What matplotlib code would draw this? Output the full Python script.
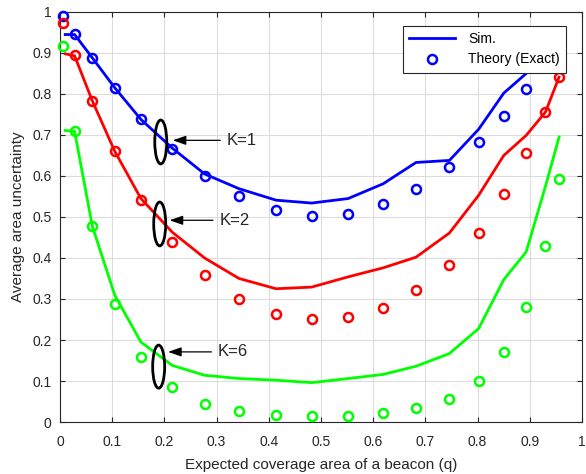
import numpy as np
import matplotlib
matplotlib.use('Agg')
import matplotlib.pyplot as plt
from matplotlib.patches import Ellipse

plt.rcParams['font.family'] = ['Liberation Sans', 'DejaVu Sans']
plt.rcParams['font.size'] = 10
plt.rcParams['xtick.direction'] = 'in'
plt.rcParams['ytick.direction'] = 'in'
plt.rcParams['xtick.major.size'] = 3.5
plt.rcParams['ytick.major.size'] = 3.5
plt.rcParams['axes.linewidth'] = 0.8

#
# Data
#
q_theory = [0.005, 0.028, 0.062, 0.105, 0.155, 0.215, 0.277, 0.343, 0.414, 0.482,
            0.552, 0.619, 0.682, 0.746, 0.802, 0.850, 0.893, 0.930, 0.956]
q_sim = [0.010] + q_theory[1:]

# K=1
theory_k1 = [0.990, 0.947, 0.888, 0.815, 0.738, 0.665, 0.600, 0.550, 0.516, 0.502,
             0.508, 0.531, 0.568, 0.622, 0.683, 0.747, 0.811]
sim_k1 = [0.945, 0.945, 0.888, 0.815, 0.738, 0.668, 0.605, 0.569, 0.541, 0.534,
          0.545, 0.581, 0.633, 0.638, 0.714, 0.802, 0.850, 0.910]

# K=2
theory_k2 = [0.973, 0.894, 0.783, 0.661, 0.542, 0.439, 0.358, 0.301, 0.263, 0.250,
             0.255, 0.279, 0.323, 0.384, 0.461, 0.557, 0.656, 0.755, 0.841]
sim_k2 = [0.898, 0.893, 0.783, 0.660, 0.545, 0.463, 0.400, 0.350, 0.325, 0.329,
          0.354, 0.376, 0.402, 0.461, 0.553, 0.650, 0.699, 0.756, 0.841]

# K=6
theory_k6 = [0.917, 0.709, 0.477, 0.287, 0.159, 0.085, 0.043, 0.026, 0.018, 0.015,
             0.015, 0.021, 0.033, 0.055, 0.099, 0.170, 0.281, 0.429, 0.592]
sim_k6 = [0.711, 0.709, 0.477, 0.309, 0.195, 0.138, 0.114, 0.106, 0.102, 0.096,
          0.106, 0.116, 0.136, 0.167, 0.228, 0.347, 0.415, 0.575, 0.695]

series = [
	(sim_k1, theory_k1, (0, 0, 1)),
	(sim_k2, theory_k2, (1, 0, 0)),
	(sim_k6, theory_k6, (0, 1, 0)),
]

# (label, ellipse centre, ellipse height, arrow tail x, arrow tip x, arrow y)
markers = [
	('K=1', (0.193, 0.683), 0.107, 0.307, 0.216, 0.687),
	('K=2', (0.191, 0.483), 0.107, 0.293, 0.210, 0.492),
	('K=6', (0.189, 0.135), 0.105, 0.290, 0.207, 0.171),
]

#
# Plot
#
fig = plt.figure(figsize=(5.86, 4.74), dpi=100)
ax = fig.add_axes([0.1024, 0.1097, 0.8908, 0.865])

dark = '#262626'

for i, (sim, theory, c) in enumerate(series):
	ax.plot(q_sim[:len(sim)], sim, '-', color=c, lw=2.0,
	        label='Sim.' if i == 0 else None, zorder=3)
	ax.plot(q_theory[:len(theory)], theory, 'o', color=c, mfc='none', ms=6.5,
	        mew=1.8, label='Theory (Exact)' if i == 0 else None, zorder=3,
	        clip_on=False)

for text, centre, h, x0, x1, y in markers:
	ax.add_patch(Ellipse(centre, 0.023, h, fill=False, ec='k', lw=2.0, zorder=4))
	ax.annotate('', xy=(x1, y), xytext=(x0, y),
	            arrowprops=dict(arrowstyle='-|>,head_length=0.8,head_width=0.28',
	                            color='k', lw=0.9, shrinkA=0, shrinkB=0), zorder=4)
	ax.text(x0 + 0.012, y, text, fontsize=12, va='center', ha='left', color=dark, zorder=4)

ax.set_xlim(0, 1)
ax.set_ylim(0, 1)
ticks = np.round(np.arange(0, 1.01, 0.1), 1)
ticklabels = ['0'] + ['%.1f' % t for t in ticks[1:-1]] + ['1']
ax.set_xticks(ticks)
ax.set_xticklabels(ticklabels)
ax.set_yticks(ticks)
ax.set_yticklabels(ticklabels)
ax.tick_params(colors=dark, labelsize=10, top=True, right=True)
ax.tick_params(axis='x', pad=9)
ax.tick_params(axis='y', pad=6)
for sp in ax.spines.values():
	sp.set_color(dark)
ax.grid(True, color='#dcdcdc', lw=0.8, zorder=0)
ax.set_axisbelow(True)

ax.set_xlabel('Expected coverage area of a beacon (q)', fontsize=11, color=dark, labelpad=7)
ax.set_ylabel('Average area uncertainty', fontsize=11, color=dark, labelpad=5)

leg = ax.legend(loc='upper right', bbox_to_anchor=(0.970, 0.966), fontsize=10,
                fancybox=False, framealpha=1, edgecolor=dark, borderpad=0.45,
                borderaxespad=0, handlelength=3.3, handletextpad=1.0,
                labelspacing=0.45)
leg.get_frame().set_linewidth(0.8)
leg.set_zorder(5)

fig.savefig('out.png', dpi=100)
